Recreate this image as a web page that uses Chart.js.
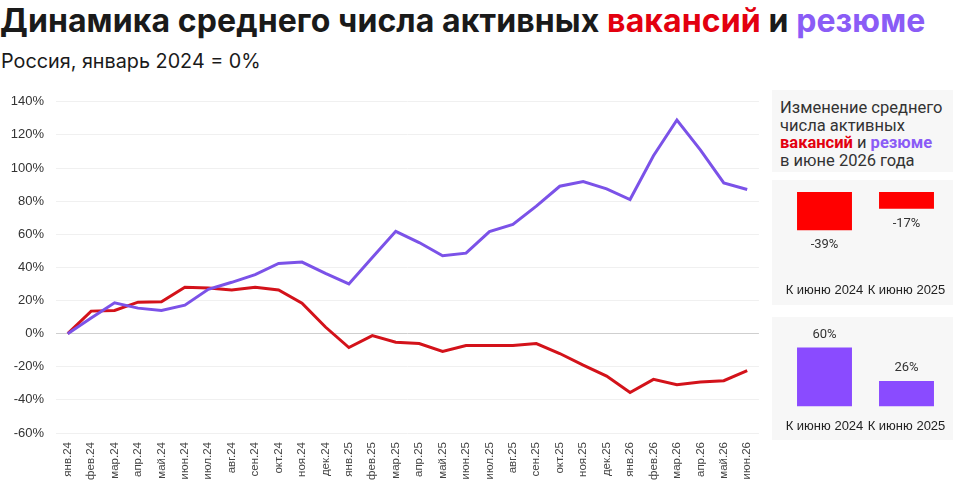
<!DOCTYPE html>
<html lang="ru">
<head>
<meta charset="utf-8">
<script src="https://cdn.jsdelivr.net/npm/chart.js@4.4.1/dist/chart.umd.min.js"></script>
<style>
    body { margin: 0; width: 953px; height: 485px; background: #fff; position: relative; overflow: hidden; font-family: Roboto, "Noto Sans", sans-serif; color: #1a1a1a; }
    #titulo { position: absolute; left: 0; top: 1px; font-family: Inter, Roboto, sans-serif; font-size: 32px; font-weight: 700; white-space: nowrap; letter-spacing: 0.1px; }
    #subtitulo { position: absolute; left: 1px; top: 49px; font-family: Inter, Roboto, sans-serif; font-size: 19.8px; font-weight: 400; white-space: nowrap; }
    .vermelho { color: #e3000f; }
    .roxo { color: #8a5cf6; }
    .box { position: absolute; left: 772px; width: 181px; background: #f7f7f7; }
    #boxTitulo { top: 90px; height: 82px; padding: 9px 0 0 8px; box-sizing: border-box; font-size: 16.5px; line-height: 17.7px; color: #333; }
    #boxTitulo b { font-weight: 700; }
    #boxVagas { top: 180px; height: 125px; }
    #boxResumes { top: 317px; height: 123px; }
    #main { position: absolute; left: 0; top: 82px; }
</style>
</head>
<body>
<div id="titulo">Динамика среднего числа активных <span class="vermelho">вакансий</span> и <span class="roxo">резюме</span></div>
<div id="subtitulo">Россия, январь 2024 = 0%</div>

<canvas id="main" width="762" height="403"></canvas>

<div id="boxTitulo" class="box">Изменение среднего<br>числа активных<br><b class="vermelho">вакансий</b> и <b class="roxo">резюме</b><br>в июне 2026 года</div>
<div id="boxVagas" class="box"><canvas id="vagasChart" width="181" height="125"></canvas></div>
<div id="boxResumes" class="box"><canvas id="resumesChart" width="181" height="123"></canvas></div>

<script>
const meses = ['янв.24', 'фев.24', 'мар.24', 'апр.24', 'май.24', 'июн.24', 'июл.24', 'авг.24', 'сен.24', 'окт.24', 'ноя.24', 'дек.24',
    'янв.25', 'фев.25', 'мар.25', 'апр.25', 'май.25', 'июн.25', 'июл.25', 'авг.25', 'сен.25', 'окт.25', 'ноя.25', 'дек.25',
    'янв.26', 'фев.26', 'мар.26', 'апр.26', 'май.26', 'июн.26'];

// вакансии, % к январю 2024
const vagas = [0, 13.6, 14, 19, 19.2, 28, 27.6, 26.4, 28, 26.4, 18.4, 4,
    -8.4, -1.2, -5.2, -6, -10.8, -7.2, -7.2, -7.2, -6, -12, -19, -25.6,
    -35.6, -27.6, -30.8, -29.2, -28.4, -22.4];

// резюме, % к январю 2024
const resumes = [0, 9.5, 18.6, 15.4, 14, 17.2, 26.8, 31, 35.6, 42.4, 43.2, 36.4,
    30, 46, 61.8, 55, 47, 48.6, 61.6, 66, 77, 89, 91.8, 87.4,
    81, 107.4, 129, 111, 91, 87];

const miniLabels = ['К июню 2024', 'К июню 2025'];
const vagasJunho = [-39, -17];
const resumesJunho = [60, 26];

const COR_VAGAS = '#d3121a';
const COR_RESUMES = '#7b52e8';

// rótulos de valor nas barras pequenas
const rotuloValor = {
    id: 'rotuloValor',
    afterDatasetsDraw(chart) {
        const ctx = chart.ctx;
        const meta = chart.getDatasetMeta(0);
        const dados = chart.data.datasets[0].data;
        ctx.save();
        ctx.font = '13px Roboto';
        ctx.fillStyle = '#333';
        ctx.textAlign = 'center';
        ctx.textBaseline = 'middle';
        meta.data.forEach((bar, i) => {
            const v = dados[i];
            const y = v < 0 ? bar.y + 15 : bar.y - 13;
            ctx.fillText(v + '%', bar.x, y);
        });
        ctx.restore();
    }
};

function graficoPrincipal() {
    new Chart(document.getElementById('main'), {
        type: 'line',
        data: {
            labels: meses,
            datasets: [
                { label: 'резюме', data: resumes, borderColor: COR_RESUMES, borderWidth: 3, pointRadius: 0, tension: 0 },
                { label: 'вакансии', data: vagas, borderColor: COR_VAGAS, borderWidth: 3, pointRadius: 0, tension: 0 }
            ]
        },
        options: {
            responsive: false,
            animation: false,
            layout: { padding: { top: 0, right: 0, bottom: 0, left: 0 } },
            plugins: { legend: { display: false }, tooltip: { enabled: false } },
            scales: {
                x: {
                    offset: true,
                    grid: { display: false },
                    border: { display: false },
                    ticks: { minRotation: 90, maxRotation: 90, autoSkip: false, padding: 1, color: '#444', font: { size: 11.5 } },
                    afterFit(s) { s.height = 52; }
                },
                y: {
                    min: -60,
                    max: 140,
                    border: { display: false },
                    grid: { drawTicks: false, color: c => c.tick && c.tick.value === 0 ? '#cfcfcf' : '#f0f0f0' },
                    ticks: { stepSize: 20, padding: 12, color: '#333', font: { size: 13 }, callback: v => v + '%' },
                    afterFit(s) { s.width = 56; }
                }
            }
        }
    });
}

function graficoMini(id, dados, cor, min, max, pad) {
    new Chart(document.getElementById(id), {
        type: 'bar',
        data: {
            labels: miniLabels,
            datasets: [{ data: dados, backgroundColor: cor, categoryPercentage: 1, barPercentage: 0.67 }]
        },
        options: {
            responsive: false,
            animation: false,
            layout: { padding: pad },
            plugins: { legend: { display: false }, tooltip: { enabled: false } },
            scales: {
                x: {
                    grid: { display: false, drawTicks: true, tickLength: 10 },
                    border: { display: false },
                    ticks: { autoSkip: false, maxRotation: 0, minRotation: 0, padding: 2, color: '#222', font: { size: 13 } }
                },
                y: { display: false, min: min, max: max }
            }
        },
        plugins: [rotuloValor]
    });
}

graficoPrincipal();
graficoMini('vagasChart', vagasJunho, '#ff0000', -80, 0, { top: 12, right: 5.5, bottom: 5, left: 11.5 });
graficoMini('resumesChart', resumesJunho, '#8a4bff', 0, 80, { top: 11, right: 5.5, bottom: 4, left: 11.5 });
</script>
</body>
</html>
